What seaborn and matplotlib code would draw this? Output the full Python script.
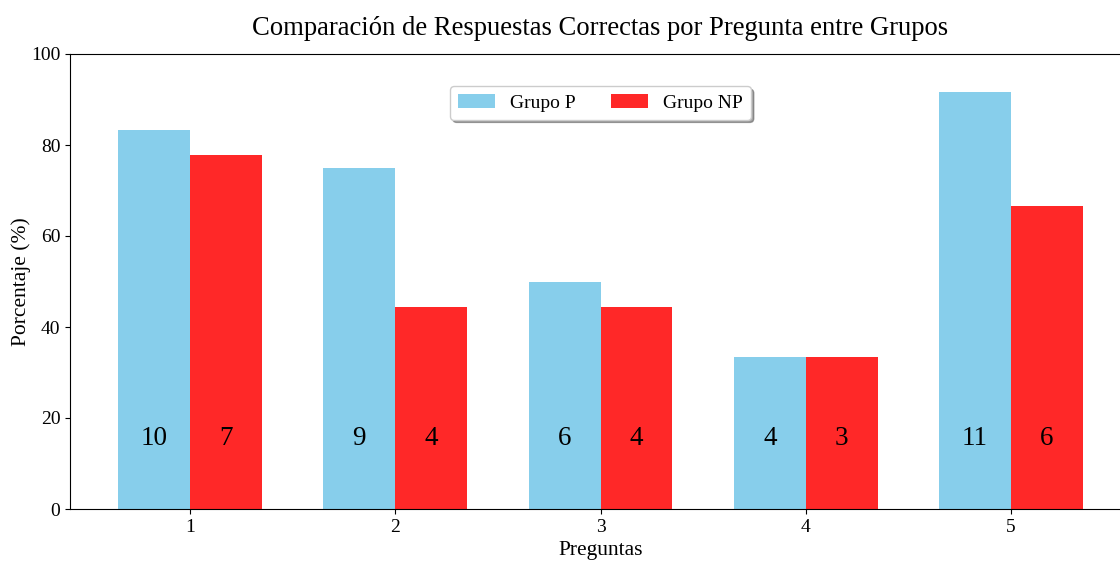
import numpy as np
import pandas as pd
import matplotlib
matplotlib.use("Agg")
import matplotlib.pyplot as plt
import seaborn as sns

# Datos
preguntas = ["1", "2", "3", "4", "5"]
pct_p = [83.33, 75.0, 50.0, 33.33, 91.67]
pct_np = [77.78, 44.44, 44.44, 33.33, 66.67]
n_p = [10, 9, 6, 4, 11]
n_np = [7, 4, 4, 3, 6]
grupos = ["Grupo P", "Grupo NP"]
colores = ["#87CEEB", "#FF2828"]

plt.rcParams["font.family"] = ["Liberation Serif", "DejaVu Serif"]

df = pd.DataFrame({
    "Pregunta": preguntas * 2,
    "Porcentaje": pct_p + pct_np,
    "Grupo": [grupos[0]] * 5 + [grupos[1]] * 5,
})

fig = plt.figure(figsize=(11.2, 5.61), dpi=100)
ax = fig.add_axes([70 / 1120, 52 / 561, 1061 / 1120, 455 / 561])

sns.barplot(data=df, x="Pregunta", y="Porcentaje", hue="Grupo",
            palette=colores, saturation=1, width=0.7, linewidth=0, ax=ax)

# Conteos dentro de cada barra
for i in range(len(preguntas)):
    ax.text(i - 0.175, 15.5, str(n_p[i]), ha="center", va="center", fontsize=19.5)
    ax.text(i + 0.175, 15.5, str(n_np[i]), ha="center", va="center", fontsize=19.5)

ax.set_xlim(-0.585, 4.585)
ax.set_ylim(0, 100)
ax.set_xlabel("Preguntas", fontsize=15.5)
ax.set_ylabel("Porcentaje (%)", fontsize=15.5, labelpad=0)
ax.tick_params(labelsize=14)
ax.spines["right"].set_visible(False)
ax.set_title("Comparación de Respuestas Correctas por Pregunta entre Grupos",
             fontsize=19.2, pad=14)

ax.legend(loc="upper center", bbox_to_anchor=(0.5, 0.95), ncol=2,
          shadow=True, fontsize=14, title=None, columnspacing=1.8,
          handlelength=1.9)

fig.savefig("out.png", dpi=100)
